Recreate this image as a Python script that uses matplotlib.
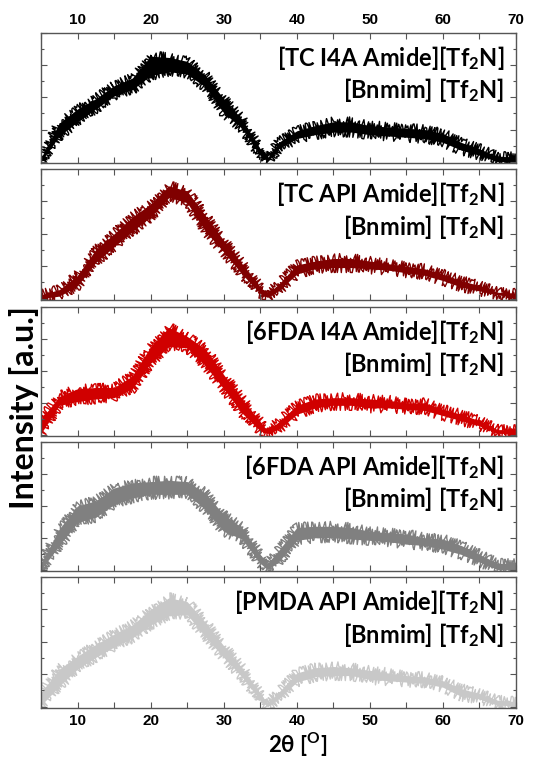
import matplotlib
matplotlib.use('Agg')
import matplotlib.pyplot as plt
from matplotlib.ticker import MultipleLocator

plt.rcParams['mathtext.fontset'] = 'custom'
plt.rcParams['mathtext.rm'] = 'Lato:bold'
plt.rcParams['mathtext.it'] = 'Lato:bold'
plt.rcParams['mathtext.bf'] = 'Lato:bold'

two_theta = [5, 7.5, 10, 12.5, 15, 17.5, 20, 22.5, 25, 27.5, 30, 32.5, 35, 36,
             37.5, 40, 42.5, 45, 47.5, 50, 52.5, 55, 57.5, 60, 62.5, 65, 67.5, 70]

# lower / upper edge of the noisy trace, as fraction of panel height
tc_i4a_low = [0.00, 0.20, 0.31, 0.41, 0.51, 0.56, 0.67, 0.70, 0.68, 0.58, 0.38, 0.26, 0.05, 0.00,
              0.10, 0.18, 0.21, 0.23, 0.23, 0.21, 0.20, 0.19, 0.18, 0.15, 0.09, 0.05, 0.00, 0.00]
tc_i4a_high = [0.03, 0.30, 0.41, 0.49, 0.59, 0.65, 0.82, 0.81, 0.78, 0.67, 0.49, 0.33, 0.10, 0.03,
               0.15, 0.24, 0.28, 0.31, 0.31, 0.28, 0.27, 0.26, 0.25, 0.22, 0.15, 0.10, 0.04, 0.04]

tc_api_low = [0.00, 0.02, 0.10, 0.28, 0.40, 0.52, 0.63, 0.78, 0.74, 0.52, 0.36, 0.19, 0.04, 0.01,
              0.06, 0.19, 0.23, 0.24, 0.24, 0.23, 0.22, 0.20, 0.18, 0.14, 0.09, 0.06, 0.03, 0.01]
tc_api_high = [0.03, 0.07, 0.18, 0.38, 0.50, 0.63, 0.73, 0.87, 0.83, 0.64, 0.45, 0.27, 0.09, 0.04,
               0.11, 0.26, 0.29, 0.31, 0.31, 0.29, 0.27, 0.25, 0.23, 0.19, 0.14, 0.10, 0.05, 0.04]

fda_i4a_low = [0.01, 0.23, 0.26, 0.28, 0.29, 0.36, 0.56, 0.69, 0.68, 0.54, 0.36, 0.17, 0.03, 0.01,
               0.04, 0.16, 0.21, 0.23, 0.23, 0.21, 0.21, 0.20, 0.19, 0.15, 0.11, 0.07, 0.01, 0.01]
fda_i4a_high = [0.12, 0.30, 0.36, 0.37, 0.37, 0.46, 0.69, 0.84, 0.77, 0.67, 0.47, 0.28, 0.10, 0.03,
                0.10, 0.23, 0.28, 0.29, 0.29, 0.28, 0.27, 0.25, 0.25, 0.20, 0.16, 0.11, 0.04, 0.04]

fda_api_low = [0.00, 0.19, 0.37, 0.41, 0.51, 0.56, 0.59, 0.59, 0.59, 0.47, 0.30, 0.24, 0.05, 0.00,
               0.06, 0.23, 0.25, 0.25, 0.24, 0.23, 0.22, 0.20, 0.19, 0.16, 0.12, 0.06, 0.00, 0.00]
fda_api_high = [0.05, 0.32, 0.50, 0.54, 0.64, 0.68, 0.69, 0.70, 0.69, 0.60, 0.43, 0.33, 0.12, 0.05,
                0.15, 0.33, 0.34, 0.34, 0.33, 0.30, 0.29, 0.28, 0.25, 0.24, 0.19, 0.12, 0.05, 0.05]

pmda_api_low = [0.01, 0.16, 0.29, 0.38, 0.46, 0.53, 0.63, 0.70, 0.71, 0.54, 0.38, 0.23, 0.05, 0.00,
                0.06, 0.19, 0.23, 0.24, 0.24, 0.21, 0.20, 0.19, 0.18, 0.15, 0.08, 0.06, 0.01, 0.01]
pmda_api_high = [0.11, 0.29, 0.39, 0.48, 0.56, 0.63, 0.75, 0.84, 0.81, 0.65, 0.47, 0.30, 0.10, 0.03,
                 0.11, 0.26, 0.30, 0.31, 0.30, 0.28, 0.26, 0.24, 0.23, 0.20, 0.14, 0.10, 0.05, 0.04]

labels = [r'[TC I4A Amide][Tf$_2$N]', r'[TC API Amide][Tf$_2$N]', r'[6FDA I4A Amide][Tf$_2$N]',
          r'[6FDA API Amide][Tf$_2$N]', r'[PMDA API Amide][Tf$_2$N]']
label2 = r'[Bnmim] [Tf$_2$N]'
colors = ['#000000', '#800000', '#d00000', '#808080', '#c8c8c8']
lows = [tc_i4a_low, tc_api_low, fda_i4a_low, fda_api_low, pmda_api_low]
highs = [tc_i4a_high, tc_api_high, fda_i4a_high, fda_api_high, pmda_api_high]

W, H = 560, 762
fig = plt.figure(figsize=(W / 100, H / 100), dpi=100)

panel_px = [(33, 163), (169, 300), (307, 436), (442, 571), (577, 708)]
left_px, right_px = 41, 516

for i, (top, bot) in enumerate(panel_px):
    ax = fig.add_axes([left_px / W, 1 - bot / H, (right_px - left_px) / W, (bot - top) / H])
    band = ax.fill_between(two_theta, lows[i], highs[i], color=colors[i], lw=0.0)
    # rough, noisy-looking edges for the diffraction trace
    edge = ax.fill_between(two_theta, lows[i], highs[i], facecolor='none',
                           edgecolor=colors[i], lw=1.0)
    edge.set_sketch_params(scale=5, length=1.2, randomness=3)
    ax.set_xlim(5, 70)
    ax.set_ylim(-0.01, 1)
    ax.xaxis.set_major_locator(MultipleLocator(10))
    ax.xaxis.set_minor_locator(MultipleLocator(5))
    ax.yaxis.set_major_locator(MultipleLocator(0.25))
    ax.yaxis.set_minor_locator(MultipleLocator(0.125))
    ax.tick_params(which='both', direction='in', top=True, right=True, color='#555555', width=0.8)
    ax.tick_params(which='major', length=4)
    ax.tick_params(which='minor', length=2.5)
    ax.tick_params(axis='x', which='minor', length=4)
    ax.set_yticklabels([])
    for s in ax.spines.values():
        s.set_color('#555555')
        s.set_linewidth(1.0)
    if i == 0:
        ax.tick_params(axis='x', labeltop=True, labelbottom=False)
    elif i == 4:
        ax.tick_params(axis='x', labeltop=False, labelbottom=True)
    else:
        ax.tick_params(axis='x', labeltop=False, labelbottom=False)
    for lab in ax.get_xticklabels():
        lab.set_fontweight('bold')
        lab.set_fontsize(11)
        lab.set_family('Liberation Sans')
    ax.tick_params(axis='x', pad=4)
    ax.text(0.975, 0.81, labels[i], transform=ax.transAxes, ha='right', va='center',
            fontsize=17, fontweight='bold', family='Lato')
    ax.text(0.975, 0.56, label2, transform=ax.transAxes, ha='right', va='center',
            fontsize=17, fontweight='bold', family='Lato')

fig.text(24 / W, 1 - 408 / H, 'Intensity [a.u.]', rotation=90, ha='center', va='center',
         fontsize=23, fontweight='bold', family='Lato')
fig.text(298 / W, 1 - 745 / H, r'2$\theta$ [$^{\mathrm{O}}$]', ha='center', va='center',
         fontsize=16, fontweight='bold', family='Lato')

fig.savefig('out.png', dpi=100)
